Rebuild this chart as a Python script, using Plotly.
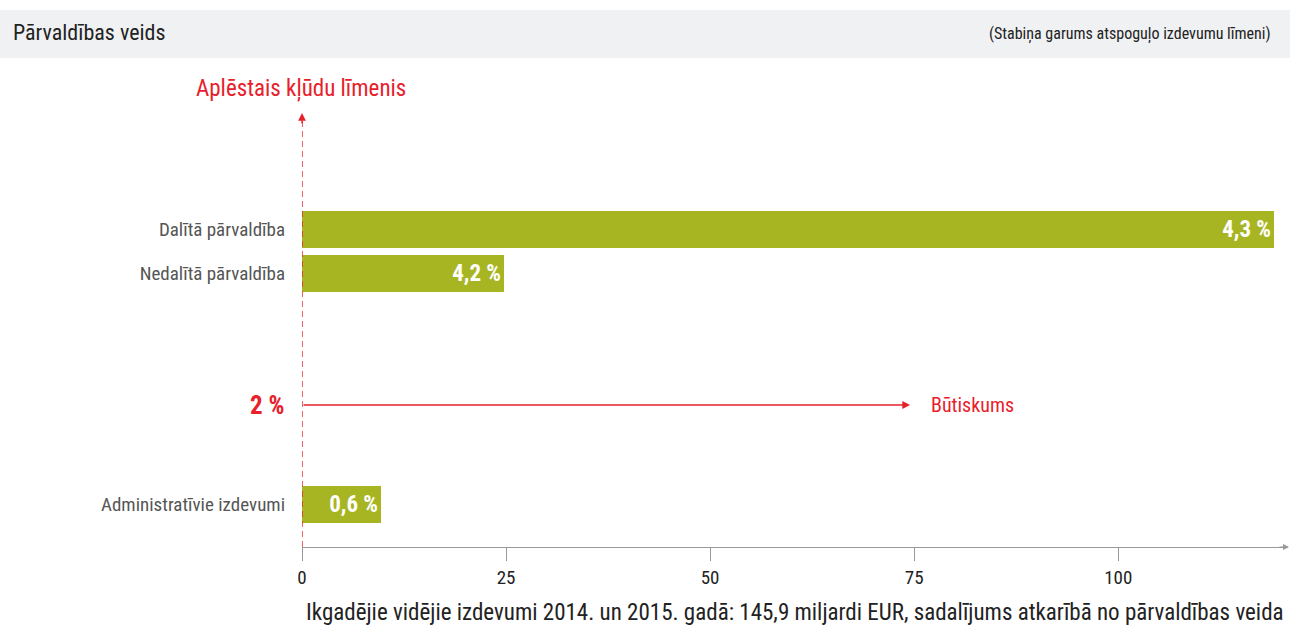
import plotly.graph_objects as go

# ---- data ----
categories = ["Dalītā pārvaldība", "Nedalītā pārvaldība", "Administratīvie izdevumi"]
spending = [119.1, 24.8, 9.7]            # miljardi EUR
error_labels = ["4,3 %", "4,2 %", "0,6 %"]
materiality_label = "2 %"
x_ticks = [0, 25, 50, 75, 100]

# ---- layout helpers ----
W, H = 1290, 630
L, R, T, B = 302, 2, 95, 83
PW, PH = W - L - R, H - T - B
def px(x):  # pixel x -> paper
    return (x - L) / PW
def py(y):  # pixel y -> paper
    return (H - B - y) / PH

# vertical positions (plot units = pixels above axis)
row_pos = [317.5, 273.5, 43]
mat_pos = 142
bar_w = 37
xmax = 120.8

FONT = "Roboto Condensed, DejaVu Sans Condensed, Liberation Sans Narrow, Open Sans Condensed, Roboto, sans-serif"
GREEN = "#a8b522"
RED = "#e8202a"

fig = go.Figure()
fig.add_trace(go.Bar(
    x=spending, y=row_pos, orientation="h", width=bar_w,
    marker=dict(color=GREEN, line=dict(width=0)),
    text=error_labels, textposition="inside", insidetextanchor="end",
    textfont=dict(family=FONT, size=23, color="white", weight="bold"),
    hoverinfo="skip", showlegend=False, cliponaxis=False,
))

shapes = [
    # header band
    dict(type="rect", xref="paper", yref="paper", x0=px(0), x1=px(W), y0=py(58), y1=py(10),
         fillcolor="#f0f1f3", line=dict(width=0), layer="below"),
    # dashed vertical error-rate axis
    dict(type="line", xref="x", yref="paper", x0=0, x1=0, y0=0, y1=py(120),
         line=dict(color=RED, width=1.4, dash="6px,4px")),
]

annotations = [
    dict(text="Pārvaldības veids", xref="paper", yref="paper", x=px(11), y=py(33),
         xanchor="left", yanchor="middle", showarrow=False,
         font=dict(family=FONT, size=22, color="#222")),
    dict(text="(Stabiņa garums atspoguļo izdevumu līmeni)", xref="paper", yref="paper",
         x=px(1273), y=py(34), xanchor="right", yanchor="middle", showarrow=False,
         font=dict(family=FONT, size=16, color="#222")),
    dict(text="Aplēstais kļūdu līmenis", xref="paper", yref="paper", x=px(301), y=py(88),
         xanchor="center", yanchor="middle", showarrow=False,
         font=dict(family=FONT, size=23, color=RED)),
    # arrow head on top of dashed line
    dict(text="", xref="x", yref="paper", x=0, y=py(113), ax=0, ay=12,
         showarrow=True, arrowhead=2, arrowsize=1.2,
         arrowwidth=1.3, arrowcolor=RED),
    # materiality arrow
    dict(text="", xref="x", yref="y", x=74.5, y=mat_pos, ax=0, ay=mat_pos,
         axref="x", ayref="y", showarrow=True, arrowhead=2, arrowsize=1.2,
         arrowwidth=1.3, arrowcolor=RED),
    dict(text="Būtiskums", xref="paper", yref="y", x=px(929), y=mat_pos,
         xanchor="left", yanchor="middle", showarrow=False,
         font=dict(family=FONT, size=20, color=RED)),
    dict(text="<b>" + materiality_label + "</b>", xref="paper", yref="y", x=px(286), y=mat_pos,
         xanchor="right", yanchor="middle", showarrow=False,
         font=dict(family=FONT, size=25, color=RED)),
    # x axis arrow head
    dict(text="", xref="paper", yref="paper", x=px(1290), y=0, ax=-12, ay=0,
         showarrow=True, arrowhead=2, arrowsize=1,
         arrowwidth=1.2, arrowcolor="#999"),
    dict(text="Ikgadējie vidējie izdevumi 2014. un 2015. gadā: 145,9 miljardi EUR, sadalījums atkarībā no pārvaldības veida",
         xref="paper", yref="paper", x=px(1286), y=py(612), xanchor="right", yanchor="middle",
         showarrow=False, font=dict(family=FONT, size=23, color="#222")),
]

fig.update_layout(
    width=W, height=H, margin=dict(l=L, r=R, t=T, b=B),
    paper_bgcolor="white", plot_bgcolor="white",
    shapes=shapes, annotations=annotations,
    xaxis=dict(range=[0, xmax], tickvals=x_ticks, ticks="outside", ticklen=13,
               tickcolor="#999", showgrid=False, zeroline=False, showline=True,
               linecolor="#999", linewidth=1.3,
               tickfont=dict(family=FONT, size=19, color="#222"), fixedrange=True),
    yaxis=dict(range=[0, PH], tickvals=row_pos, ticktext=categories, showgrid=False,
               zeroline=False, showline=False, ticks="", ticklabelstandoff=16,
               tickfont=dict(family=FONT, size=19, color="#555"), fixedrange=True),
    bargap=0,
)

fig.write_html("out.html", config={"displayModeBar": False},
               post_script="document.body.style.margin='0';")
